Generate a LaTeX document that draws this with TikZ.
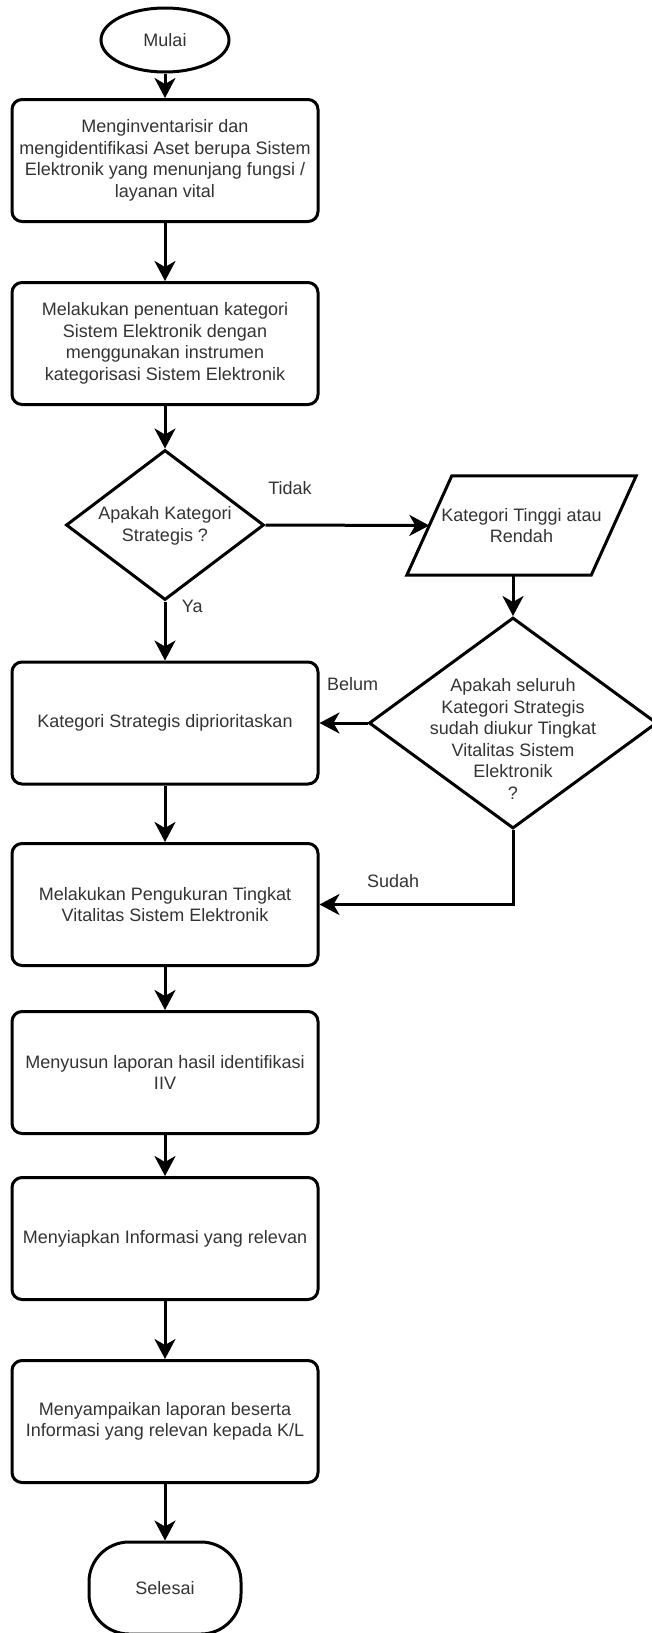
\documentclass[tikz,border=0pt]{standalone}
\usepackage{fontspec}
\setmainfont{Liberation Sans}
\usetikzlibrary{shapes.geometric,arrows.meta}
\definecolor{ink}{HTML}{333333}

\begin{document}
\begin{tikzpicture}[x=1pt, y=-1pt,
  every node/.style={font=\fontsize{18}{21.6}\selectfont, text=ink, align=center},
  box/.style={draw=black, line width=3pt, rounded corners=10pt, minimum width=306pt, minimum height=122pt, inner sep=0pt},
  terminal/.style={draw=black, line width=3pt, ellipse, inner sep=0pt},
  decision/.style={draw=black, line width=3pt, diamond, inner sep=0pt},
  data/.style={minimum width=184pt, minimum height=99pt, inner sep=0pt},
  flow/.style={line width=3pt, -{Stealth[length=20pt, width=21pt, inset=6pt]}}]
\useasboundingbox (0,0) rectangle (652,1633); % page
\node[terminal, minimum width=128pt, minimum height=64pt] (start) at (165,40) {Mulai}; % start
\node[box] (inv) at (165,160.5) {Menginventarisir dan\\mengidentifikasi Aset berupa Sistem\\Elektronik yang menunjang fungsi /\\layanan vital};
\node[box] (kat) at (165,343.5) {Melakukan penentuan kategori\\Sistem Elektronik dengan\\menggunakan instrumen\\kategorisasi Sistem Elektronik};
\node[decision, minimum width=198pt, minimum height=150pt] (strat) at (165,525) {}; % first question
\node (strattxt) at (165,526) {Apakah Kategori\\Strategis ?};
\node[data] (tinggi) at (521.5,525.5) {Kategori Tinggi atau\\Rendah}; % data box
\draw[line width=3pt] ([xshift=-22.5pt]tinggi.south west) -- ([xshift=22.5pt]tinggi.north west) -- ([xshift=22.5pt]tinggi.north east) -- ([xshift=-22.5pt]tinggi.south east) -- cycle; % slanted outline
\node[decision, minimum width=288pt, minimum height=211pt] (ukur) at (513,723) {}; % second question
\node (ukurtxt) at (513,739) {Apakah seluruh\\Kategori Strategis\\sudah diukur Tingkat\\Vitalitas Sistem\\Elektronik\\?};
\node[box] (prio) at (165,723) {Kategori Strategis diprioritaskan};
\node[box] (vital) at (165,904.5) {Melakukan Pengukuran Tingkat\\Vitalitas Sistem Elektronik};
\node[box] (lapor) at (165,1072.5) {Menyusun laporan hasil identifikasi\\IIV};
\node[box] (info) at (165,1238.5) {Menyiapkan Informasi yang relevan};
\node[box] (kirim) at (165,1421.5) {Menyampaikan laporan beserta\\Informasi yang relevan kepada K/L};
\node[box, minimum width=152pt, minimum height=92pt, rounded corners=40pt] (stop) at (165,1588) {Selesai}; % end
\draw[flow] (start) -- (inv);
\draw[flow] (inv) -- (kat);
\draw[flow] (kat) -- (strat);
\draw[flow] (strat) -- (prio) node[pos=0.08, right=12pt] (ya) {Ya};
\draw[flow] (strat.east) -- (tinggi.west) node[pos=0.15, above=26pt] (tidak) {Tidak};
\draw[flow] (tinggi.south -| ukur.north) -- (ukur.north);
\draw[flow] (ukur.west) -- (prio.east) node[pos=0.31, above=28pt] (belum) {Belum};
\draw[flow] (ukur.south) |- (vital.east) node[pos=0.81, above=12pt] (sudah) {Sudah};
\draw[flow] (prio) -- (vital);
\draw[flow] (vital) -- (lapor);
\draw[flow] (lapor) -- (info);
\draw[flow] (info) -- (kirim);
\draw[flow] (kirim) -- (stop);
\end{tikzpicture}
\end{document}
